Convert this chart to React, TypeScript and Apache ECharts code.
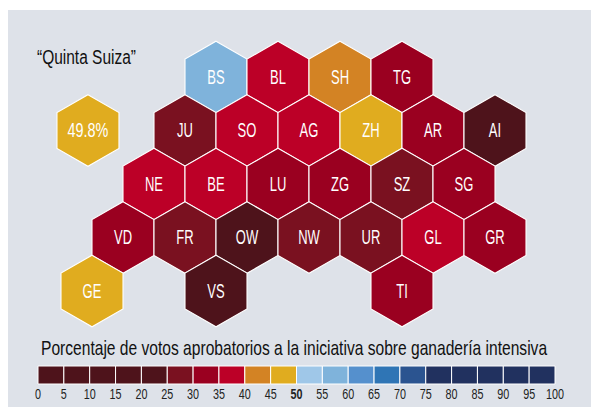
import React, { useEffect, useRef } from "react";
import * as echarts from "echarts";

const FONT = '"Liberation Sans", Arial, sans-serif';

const cantons = ["BS","BL","SH","TG","JU","SO","AG","ZH","AR","AI","NE","BE","LU","ZG","SZ","SG","VD","FR","OW","NW","UR","GL","GR","GE","VS","TI"];
const columns = [4,6,8,10,3,5,7,9,11,13,2,4,6,8,10,12,1,3,5,7,9,11,13,0,4,10];
const rows =    [0,0,0,0,1,1,1,1,1,1,2,2,2,2,2,2,3,3,3,3,3,3,3,4,4,4];
const votes =   [57,38,43,33,28,37,36,47,32,22,38,36,31,34,29,32,33,28,23,26,27,36,33,48,21,34];

const nationalLabel = ["49.8%"];
const nationalValue = [49.8];
const nationalColumn = [-0.13];
const nationalRow = [1];

const binColors = [
  "#4E131B","#4E131B","#4E131B","#4E131B","#4E131B",
  "#7A1120","#9A0020","#BC0027","#D38324","#E0AC1F",
  "#9FC7E8","#7FB3DB","#5590CD","#2F75B5","#2B5490",
  "#21315F","#21315F","#21315F","#21315F","#21315F",
];
const binStarts = [0,5,10,15,20,25,30,35,40,45,50,55,60,65,70,75,80,85,90,95];
const tickLabels = [0,5,10,15,20,25,30,35,40,45,50,55,60,65,70,75,80,85,90,95,100];
const binWidth = 5;
const boldTick = 50;

const colorOf = (v: number) => binColors[Math.min(Math.floor(v / binWidth), binColors.length - 1)];

function hexItem(labelOf: (i: number) => string, valueOf: (i: number) => number, fontSize: number, sx: number) {
  return (params: any, api: any) => {
    const [cx, cy] = api.coord([api.value(0), api.value(1)]);
    const halfW = api.size([1, 0])[0];
    const R = 35.8;
    const pts = [
      [cx, cy - R], [cx + halfW, cy - R / 2], [cx + halfW, cy + R / 2],
      [cx, cy + R], [cx - halfW, cy + R / 2], [cx - halfW, cy - R / 2],
    ];
    return {
      type: "group",
      children: [
        { type: "polygon", shape: { points: pts }, style: { fill: colorOf(valueOf(params.dataIndex)), stroke: "#ffffff", lineWidth: 1.1 } },
        { type: "text", x: cx, y: cy, scaleX: sx, style: { text: labelOf(params.dataIndex), fill: "#ffffff", font: `${fontSize}px ${FONT}`, textAlign: "center", textVerticalAlign: "middle" } },
      ],
    };
  };
}

export default function App() {
  const ref = useRef<HTMLDivElement>(null);
  useEffect(() => {
    document.body.style.margin = "0";
    const chart = echarts.init(ref.current!, undefined, { renderer: "svg" });
    chart.setOption({
      animation: false,
      backgroundColor: "#ffffff",
      grid: [
        { left: 61, top: 23.5, width: 465, height: 321, show: false },
        { left: 38, top: 366, width: 517, height: 18, show: false },
      ],
      xAxis: [
        { type: "value", gridIndex: 0, min: -1, max: 14, show: false },
        { type: "value", gridIndex: 1, min: 0, max: 100, interval: 5, axisLine: { show: false }, axisTick: { show: false }, splitLine: { show: false }, axisLabel: { show: false } },
      ],
      yAxis: [
        { type: "value", gridIndex: 0, min: -1, max: 5, inverse: true, show: false },
        { type: "value", gridIndex: 1, min: 0, max: 1, show: false },
      ],
      graphic: [
        { type: "rect", z: -10, shape: { x: 8, y: 10, width: 583, height: 397 }, style: { fill: "#DEE2E9" } },
        { type: "text", z: 10, x: 37, y: 57, scaleX: 0.775, style: { text: "\u201CQuinta Suiza\u201D", fill: "#111111", font: `20px ${FONT}`, textVerticalAlign: "middle" } },
        { type: "text", z: 10, x: 41, y: 348, scaleX: 0.78, style: { text: "Porcentaje de votos aprobatorios a la iniciativa sobre ganader\u00EDa intensiva", fill: "#111111", font: `20px ${FONT}`, textVerticalAlign: "middle" } },
      ],
      series: [
        {
          type: "custom", xAxisIndex: 0, yAxisIndex: 0, silent: true,
          renderItem: hexItem((i) => cantons[i], (i) => votes[i], 20, 0.65),
          data: cantons.map((_, i) => [columns[i], rows[i]]),
        },
        {
          type: "custom", xAxisIndex: 0, yAxisIndex: 0, silent: true,
          renderItem: hexItem((i) => nationalLabel[i], (i) => nationalValue[i], 20, 0.72),
          data: nationalLabel.map((_, i) => [nationalColumn[i], nationalRow[i]]),
        },
        {
          type: "custom", xAxisIndex: 1, yAxisIndex: 1, silent: true,
          renderItem: (params: any, api: any) => {
            const [x0, y0] = api.coord([api.value(0), 1]);
            const [x1, y1] = api.coord([api.value(0) + binWidth, 0]);
            return {
              type: "rect",
              shape: { x: x0, y: y0, width: x1 - x0, height: y1 - y0 },
              style: { fill: binColors[params.dataIndex], stroke: "#ffffff", lineWidth: 1 },
            };
          },
          data: binStarts.map((s) => [s]),
        },
        {
          type: "custom", xAxisIndex: 1, yAxisIndex: 1, silent: true,
          clip: false,
          renderItem: (params: any, api: any) => {
            const v = api.value(0);
            const [x, y] = api.coord([v, 0]);
            return {
              type: "text", x, y: y + 9.5, scaleX: 0.72,
              style: { text: String(v), fill: "#222222", font: `${v === boldTick ? "bold " : ""}15px ${FONT}`, textAlign: "center", textVerticalAlign: "middle" },
            };
          },
          data: tickLabels.map((t) => [t]),
        },
      ],
    });
    return () => chart.dispose();
  }, []);
  return <div ref={ref} style={{ width: 591, height: 408 }} />;
}
